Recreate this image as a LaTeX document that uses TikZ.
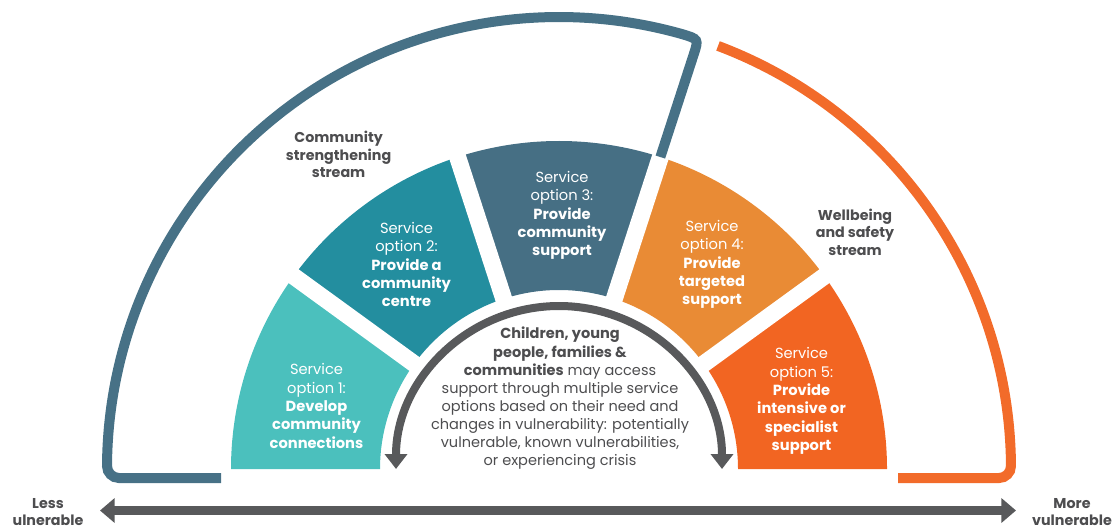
\documentclass[tikz,border=0pt]{standalone}
\usepackage{fontspec}
\setmainfont{Poppins}
\usetikzlibrary{arrows.meta}
\definecolor{segA}{HTML}{4BC0BD}
\definecolor{segB}{HTML}{238E9F}
\definecolor{segC}{HTML}{466F84}
\definecolor{segD}{HTML}{E98B35}
\definecolor{segE}{HTML}{F26522}
\definecolor{streamBlue}{HTML}{477186}
\definecolor{streamOrange}{HTML}{F26B2A}
\definecolor{arrowGray}{HTML}{58595B}
\definecolor{textGray}{HTML}{4D4D4F}
\begin{document}
\begin{tikzpicture}[x=0.75pt,y=0.75pt,
  optlabel/.style={text=white, align=center, inner sep=0pt, font=\fontsize{11}{13.7}\selectfont},
  streamlabel/.style={text=textGray, align=center, inner sep=0pt, font=\bfseries\fontsize{10.7}{13.1}\selectfont},
  centrelabel/.style={text=textGray, align=center, inner sep=0pt, font=\fontsize{10.9}{13.6}\selectfont},
  gapline/.style={white, line width=12.75pt},
  bracket/.style={line width=7.5pt},
  curvedarrow/.style={arrowGray, line width=6pt, {Triangle[width=16.5pt,length=11.25pt]}-{Triangle[width=16.5pt,length=11.25pt]}},
  scalearrow/.style={arrowGray, line width=6.75pt, {Triangle[width=18pt,length=11pt]}-{Triangle[width=18pt,length=11pt]}}
]
\useasboundingbox (0,0) rectangle (1112,529);

\begin{scope}[shift={(559,60)}]
  % five annular sectors of the service options
  \fill[segA] (180:328) arc[start angle=180,end angle=144,radius=328] -- (144:179) arc[start angle=144,end angle=180,radius=179] -- cycle;
  \fill[segB] (144:328) arc[start angle=144,end angle=108,radius=328] -- (108:179) arc[start angle=108,end angle=144,radius=179] -- cycle;
  \fill[segC] (108:328) arc[start angle=108,end angle=72,radius=328] -- (72:179) arc[start angle=72,end angle=108,radius=179] -- cycle;
  \fill[segD] (72:328) arc[start angle=72,end angle=36,radius=328] -- (36:179) arc[start angle=36,end angle=72,radius=179] -- cycle;
  \fill[segE] (36:328) arc[start angle=36,end angle=0,radius=328] -- (0:179) arc[start angle=0,end angle=36,radius=179] -- cycle;
  % white gaps between the sectors
  \foreach \a in {36,72,108,144} \draw[gapline] (\a:172) -- (\a:334);

  % community strengthening stream bracket
  \draw[bracket, streamBlue] (-338,-9) -- (-440,-9)
     arc[start angle=270,end angle=180,radius=12]
     arc[start angle=179.62,end angle=74.2,radius=452]
     .. controls (72:452) .. (72:436) -- (72:328);
  % wellbeing and safety stream bracket
  \draw[bracket, streamOrange] (69.4:452)
     arc[start angle=69.4,end angle=0.38,radius=452]
     arc[start angle=0,end angle=-90,radius=12] -- (339,-9);

  % curved two-way arrow round the centre
  \draw[curvedarrow] (180:163) arc[start angle=180,end angle=0,radius=163];
\end{scope}

% vulnerability scale
\coordinate (lessEnd) at (100,18.5);
\coordinate (moreEnd) at (1016,18.5);
\draw[scalearrow] (lessEnd) -- (moreEnd);

% labels
\node[optlabel] (opt1) at (316.5,123) {Service\\option 1:\\\textbf{Develop}\\\textbf{community}\\\textbf{connections}};
\node[optlabel] (opt2) at (406.5,264.5) {Service\\option 2:\\\textbf{Provide a}\\\textbf{community}\\\textbf{centre}};
\node[optlabel] (opt3) at (562,313.5) {Service\\option 3:\\\textbf{Provide}\\\textbf{community}\\\textbf{support}};
\node[optlabel] (opt4) at (712,264.5) {Service\\option 4:\\\textbf{Provide}\\\textbf{targeted}\\\textbf{support}};
\node[optlabel] (opt5) at (801.5,128) {Service\\option 5:\\\textbf{Provide}\\\textbf{intensive or}\\\textbf{specialist}\\\textbf{support}};

\node[streamlabel] (commStream) at (338.6,374.5) {Community\\strengthening\\stream};
\node[streamlabel] (wellStream) at (855,297) {Wellbeing\\and safety\\stream};

\node[centrelabel] (centre) at (560,130.5) {\textbf{Children, young}\\\textbf{people, families \&}\\\textbf{communities} may access\\support through multiple service\\options based on their need and\\changes in vulnerability: potentially\\vulnerable, known vulnerabilities,\\or experiencing crisis};

\node[streamlabel] (lessLabel) at (48,17) {Less\\ulnerable};
\node[streamlabel] (moreLabel) at (1072,17) {More\\vulnerable};
\end{tikzpicture}
\end{document}
